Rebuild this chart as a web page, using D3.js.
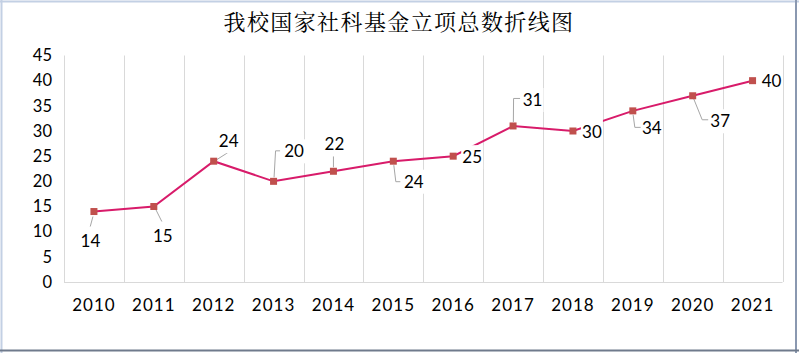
<!DOCTYPE html>
<html>
<head>
<meta charset="utf-8">
<script src="https://cdn.jsdelivr.net/npm/d3@7"></script>
<style>
html,body{margin:0;padding:0;background:#fff;}
svg{display:block;}
</style>
</head>
<body>
<svg id="chart" width="799" height="353"></svg>
<script>
// ---- data ----
const titleText = "我校国家社科基金立项总数折线图";
const years = ["2010","2011","2012","2013","2014","2015","2016","2017","2018","2019","2020","2021"];
const counts = [14, 15, 24, 20, 22, 24, 25, 31, 30, 34, 37, 40];
const yTicks = [0, 5, 10, 15, 20, 25, 30, 35, 40, 45];

// ---- label layout (offsets from point, in px) ----
const labelLayout = [
  {dx:-3.5, dy:29.5, leader:[[-1,5],[-3.7,15]]},
  {dx:9,    dy:29.5, leader:[[2,3],[8,15]]},
  {dx:15,   dy:-20,  leader:[[3,-1.5],[14,-8.5]]},
  {dx:20.5, dy:-30,  leader:[[0.5,-4],[2,-30.5],[6.5,-30.5]]},
  {dx:1,    dy:-27,  leader:[[0,-4],[0,-15]]},
  {dx:20.5, dy:20.5, leader:[[0.5,4],[2.5,20.5],[7,20.5]]},
  {dx:19,   dy:1,    leader:[]},
  {dx:19.5, dy:-26,  leader:[[0.3,-4],[0.5,-27.5],[7,-27.5]]},
  {dx:19,   dy:0.5,  leader:[]},
  {dx:19,   dy:17,   leader:[[0.3,4],[2,16.5],[8,16.5]]},
  {dx:27.5, dy:25.5, leader:[[1,3],[9.5,24],[15.5,24]]},
  {dx:19,   dy:0.5,  leader:[]}
];

const svg = d3.select("#chart");
const W = 799, H = 353;
const plot = {left:64, right:782.5, top:55.5, bottom:282};
const numFont = "Lato, 'Open Sans', sans-serif";

// frame
svg.append("rect").attr("x",0).attr("y",0).attr("width",W).attr("height",H).attr("fill","#fff");
svg.append("line").attr("x1",1.5).attr("y1",0).attr("x2",1.5).attr("y2",H).attr("stroke","#c3d0e4").attr("stroke-width",2);
svg.append("line").attr("x1",0).attr("y1",1.5).attr("x2",W).attr("y2",1.5).attr("stroke","#c3d0e4").attr("stroke-width",2);
svg.append("line").attr("x1",796).attr("y1",0).attr("x2",796).attr("y2",H).attr("stroke","#8a98b0").attr("stroke-width",2);
svg.append("line").attr("x1",0).attr("y1",350.5).attr("x2",W).attr("y2",350.5).attr("stroke","#6f7a8c").attr("stroke-width",2);

// title
svg.append("text")
  .attr("x", 399).attr("y", 30)
  .attr("text-anchor","middle")
  .attr("font-family","'Noto Serif CJK SC','Noto Sans CJK SC',serif")
  .attr("font-size", 22)
  .attr("letter-spacing", 1.4)
  .attr("fill","#000")
  .text(titleText);

const x = d3.scaleBand().domain(years).range([plot.left, plot.right]).padding(0);
const y = d3.scaleLinear().domain([0,45]).range([plot.bottom, plot.top]);

// vertical gridlines (category boundaries)
const bounds = years.map(d => x(d)).concat([plot.right]);
svg.append("g").selectAll("line").data(bounds).join("line")
  .attr("x1", d => Math.round(d)+0.5).attr("x2", d => Math.round(d)+0.5)
  .attr("y1", plot.top).attr("y2", plot.bottom)
  .attr("stroke","#d9d9d9").attr("stroke-width",1);

// baseline
svg.append("line").attr("x1",plot.left).attr("x2",plot.right)
  .attr("y1",plot.bottom+0.5).attr("y2",plot.bottom+0.5)
  .attr("stroke","#d9d9d9");

// y axis labels
const yAxis = d3.axisLeft(y).tickValues(yTicks).tickSize(0).tickPadding(12);
const gy = svg.append("g").attr("transform",`translate(${plot.left},0)`).call(yAxis);
gy.select(".domain").remove();
gy.selectAll("text").attr("font-family",numFont).attr("font-size",16.5).attr("fill","#000");

// x axis labels
const xAxis = d3.axisBottom(x).tickSize(0).tickPadding(17);
const gx = svg.append("g").attr("transform",`translate(0,${plot.bottom})`).call(xAxis);
gx.select(".domain").remove();
gx.selectAll("text").attr("font-family",numFont).attr("font-size",17).attr("letter-spacing",1).attr("fill","#000");

const cx = (d,i) => x(years[i]) + x.bandwidth()/2;
const pts = counts.map((v,i) => [cx(v,i), y(v)]);

// line
svg.append("path").datum(pts)
  .attr("d", d3.line())
  .attr("fill","none").attr("stroke","#d81b6a").attr("stroke-width",2);

// leader lines
svg.append("g").selectAll("polyline").data(labelLayout).join("polyline")
  .attr("points", (L,i) => L.leader.map(p => [pts[i][0]+p[0], pts[i][1]+p[1]].join(",")).join(" "))
  .attr("fill","none").attr("stroke","#a6a6a6").attr("stroke-width",1);

// label backgrounds + text
const lg = svg.append("g");
counts.forEach((v,i) => {
  const L = labelLayout[i];
  const lx = pts[i][0] + L.dx, ly = pts[i][1] + L.dy;
  const bw = 22, bh = 24;
  lg.append("rect").attr("x", lx-bw/2).attr("y", ly-bh/2).attr("width",bw).attr("height",bh).attr("fill","#fff");
  lg.append("text").attr("x", lx).attr("y", ly).attr("dy","0.36em")
    .attr("text-anchor","middle")
    .attr("font-family",numFont).attr("font-size",17).attr("fill","#000")
    .text(v);
});

// markers
svg.append("g").selectAll("rect").data(pts).join("rect")
  .attr("x", d => d[0]-3.5).attr("y", d => d[1]-3.5)
  .attr("width",7).attr("height",7)
  .attr("fill","#c0504d");
</script>
</body>
</html>
